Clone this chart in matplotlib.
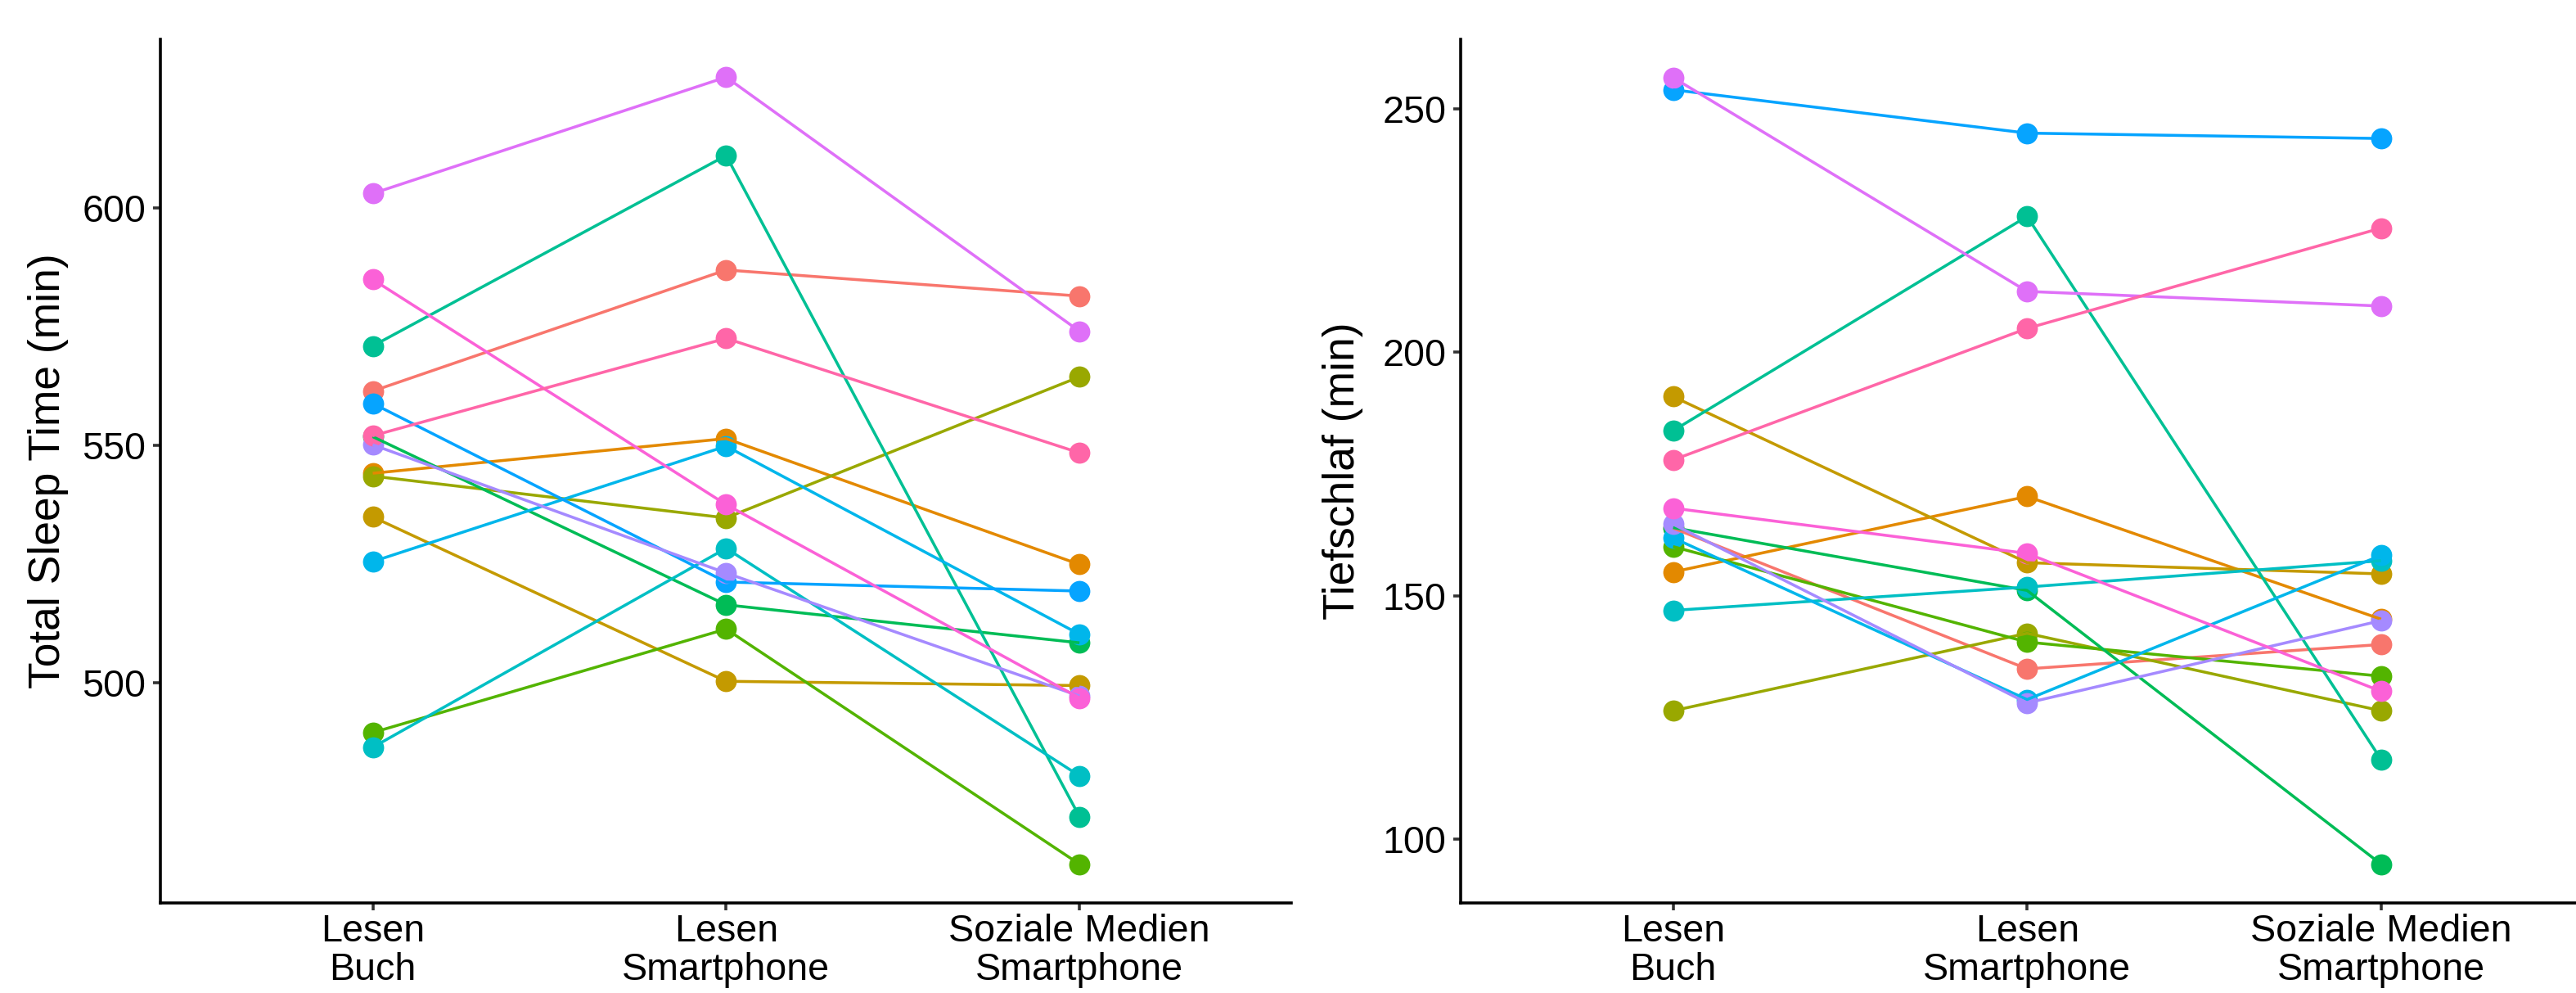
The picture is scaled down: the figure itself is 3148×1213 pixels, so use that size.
import matplotlib
matplotlib.use("Agg")
import matplotlib.pyplot as plt

plt.rcParams['font.family'] = ['Liberation Sans', 'DejaVu Sans']

conditions = ["Lesen\nBuch", "Lesen\nSmartphone", "Soziale Medien\nSmartphone"]

subject_colors = ["#F8766D", "#E38900", "#C49A00", "#99A800", "#53B400", "#00BC56", "#00C094",
                  "#00BFC4", "#00B6EB", "#06A4FF", "#A58AFF", "#DF70F8", "#FB61D7", "#FF66A8"]

# Total Sleep Time (min): [Lesen Buch, Lesen Smartphone, Soziale Medien Smartphone]
tst = [
    [561.4, 586.9, 581.4],
    [544.1, 551.4, 524.9],
    [534.9, 500.3, 499.4],
    [543.5, 534.7, 564.4],
    [489.5, 511.3, 461.8],
    [551.8, 516.4, 508.4],
    [570.9, 611.0, 471.8],
    [486.4, 528.3, 480.4],
    [525.5, 549.8, 510.2],
    [558.8, 521.2, 519.3],
    [550.1, 523.1, 497.2],
    [603.0, 627.5, 574.0],
    [584.9, 537.5, 496.8],
    [552.0, 572.5, 548.4],
]

# Tiefschlaf (min)
deep = [
    [163.9, 135.0, 140.0],
    [154.9, 170.4, 145.2],
    [190.9, 156.8, 154.5],
    [126.4, 142.3, 126.4],
    [160.1, 140.5, 133.5],
    [164.0, 151.1, 94.9],
    [183.9, 227.9, 116.4],
    [147.0, 151.8, 157.2],
    [161.9, 128.7, 158.3],
    [253.9, 245.0, 243.9],
    [164.7, 128.0, 144.9],
    [256.4, 212.5, 209.5],
    [168.0, 158.7, 130.4],
    [177.9, 204.9, 225.5],
]

W, H = 3148, 1213
fig = plt.figure(figsize=(W / 300, H / 300), dpi=300)

ax_bottom = (H - 1102.6) / H
ax_height = (1102.6 - 47.8) / H
ax1 = fig.add_axes([196.4 / W, ax_bottom, (1578.3 - 196.4) / W, ax_height])
ax2 = fig.add_axes([1785.1 / W, ax_bottom, (3169.3 - 1785.1) / W, ax_height])


def draw(ax, data, ylabel, ylim, yticks, labx):
    x = list(range(1, len(conditions) + 1))
    for vals, c in zip(data, subject_colors):
        ax.plot(x, vals, linestyle='none', marker='o', ms=6.2, mfc=c, mec='none', zorder=2)
    for vals, c in zip(data, subject_colors):
        ax.plot(x, vals, color=c, lw=0.85, zorder=3, solid_capstyle='butt')
    ax.set_xlim(0.4, 3.6)
    ax.set_ylim(*ylim)
    ax.set_xticks(x)
    ax.set_xticklabels(conditions, linespacing=1.1)
    ax.set_yticks(yticks)
    ax.set_yticklabels([str(t) for t in yticks])
    for s in ['top', 'right']:
        ax.spines[s].set_visible(False)
    for s in ['left', 'bottom']:
        ax.spines[s].set_linewidth(0.86)
        ax.spines[s].set_color('black')
    ax.tick_params(axis='both', length=2.1, width=0.86, color='#333333', labelsize=11.2, labelcolor='black')
    ax.tick_params(axis='y', pad=2.2)
    ax.tick_params(axis='x', pad=1.0)
    ax.set_ylabel(ylabel, fontsize=12.8, color='black')
    ax.yaxis.label.set_va('center')
    ax.yaxis.set_label_coords(labx, 0.5)
    ax.set_facecolor('white')


draw(ax1, tst, "Total Sleep Time (min)", (453.7, 635.5), [500, 550, 600], -0.0994)
draw(ax2, deep, "Tiefschlaf (min)", (87.0, 264.3), [100, 150, 200, 250], -0.1044)

fig.savefig("out.png", dpi=300, facecolor='white')
